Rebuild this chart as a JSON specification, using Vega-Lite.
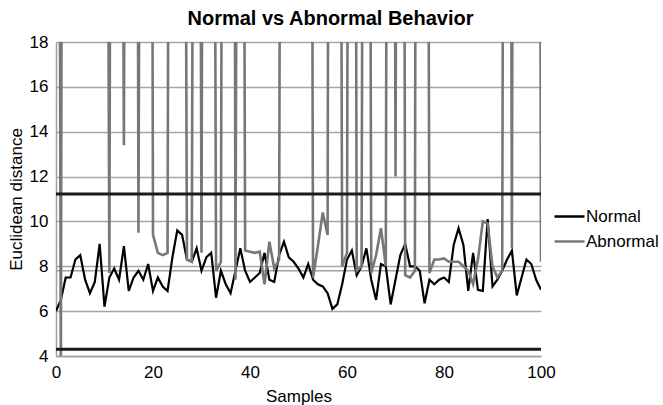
{
  "$schema": "https://vega.github.io/schema/vega-lite/v6.json",
  "width": 485,
  "height": 314,
  "autosize": {"type": "none"},
  "padding": {"left": 56, "top": 42, "right": 122, "bottom": 49},
  "background": "white",
  "title": {"text": "Normal vs Abnormal Behavior", "font": "Liberation Sans", "fontSize": 20, "fontWeight": "bold", "color": "#000000", "anchor": "middle", "dx": 32, "offset": 4},
  "config": {"view": {"stroke": null}, "font": "Liberation Sans"},
  "datasets": {
    "normal": [
      {"sample":0,"series":"Normal","value":6.0},{"sample":1,"series":"Normal","value":6.5},{"sample":2,"series":"Normal","value":7.5},{"sample":3,"series":"Normal","value":7.5},{"sample":4,"series":"Normal","value":8.3},{"sample":5,"series":"Normal","value":8.5},{"sample":6,"series":"Normal","value":7.4},{"sample":7,"series":"Normal","value":6.8},{"sample":8,"series":"Normal","value":7.3},{"sample":9,"series":"Normal","value":9.0},
      {"sample":10,"series":"Normal","value":6.2},{"sample":11,"series":"Normal","value":7.5},{"sample":12,"series":"Normal","value":7.9},{"sample":13,"series":"Normal","value":7.4},{"sample":14,"series":"Normal","value":8.9},{"sample":15,"series":"Normal","value":6.9},{"sample":16,"series":"Normal","value":7.5},{"sample":17,"series":"Normal","value":7.8},{"sample":18,"series":"Normal","value":7.4},{"sample":19,"series":"Normal","value":8.1},
      {"sample":20,"series":"Normal","value":6.9},{"sample":21,"series":"Normal","value":7.5},{"sample":22,"series":"Normal","value":7.1},{"sample":23,"series":"Normal","value":6.9},{"sample":24,"series":"Normal","value":8.4},{"sample":25,"series":"Normal","value":9.6},{"sample":26,"series":"Normal","value":9.4},{"sample":27,"series":"Normal","value":8.3},{"sample":28,"series":"Normal","value":8.2},{"sample":29,"series":"Normal","value":8.8},
      {"sample":30,"series":"Normal","value":7.8},{"sample":31,"series":"Normal","value":8.4},{"sample":32,"series":"Normal","value":8.6},{"sample":33,"series":"Normal","value":6.6},{"sample":34,"series":"Normal","value":7.8},{"sample":35,"series":"Normal","value":7.2},{"sample":36,"series":"Normal","value":6.8},{"sample":37,"series":"Normal","value":7.8},{"sample":38,"series":"Normal","value":8.8},{"sample":39,"series":"Normal","value":7.8},
      {"sample":40,"series":"Normal","value":7.3},{"sample":41,"series":"Normal","value":7.5},{"sample":42,"series":"Normal","value":7.7},{"sample":43,"series":"Normal","value":8.6},{"sample":44,"series":"Normal","value":7.4},{"sample":45,"series":"Normal","value":7.3},{"sample":46,"series":"Normal","value":8.5},{"sample":47,"series":"Normal","value":9.1},{"sample":48,"series":"Normal","value":8.4},{"sample":49,"series":"Normal","value":8.2},
      {"sample":50,"series":"Normal","value":7.9},{"sample":51,"series":"Normal","value":7.5},{"sample":52,"series":"Normal","value":8.1},{"sample":53,"series":"Normal","value":7.4},{"sample":54,"series":"Normal","value":7.2},{"sample":55,"series":"Normal","value":7.1},{"sample":56,"series":"Normal","value":6.8},{"sample":57,"series":"Normal","value":6.1},{"sample":58,"series":"Normal","value":6.3},{"sample":59,"series":"Normal","value":7.2},
      {"sample":60,"series":"Normal","value":8.3},{"sample":61,"series":"Normal","value":8.7},{"sample":62,"series":"Normal","value":7.6},{"sample":63,"series":"Normal","value":8.0},{"sample":64,"series":"Normal","value":8.8},{"sample":65,"series":"Normal","value":7.4},{"sample":66,"series":"Normal","value":6.5},{"sample":67,"series":"Normal","value":8.1},{"sample":68,"series":"Normal","value":8.0},{"sample":69,"series":"Normal","value":6.3},
      {"sample":70,"series":"Normal","value":7.4},{"sample":71,"series":"Normal","value":8.5},{"sample":72,"series":"Normal","value":9.0},{"sample":73,"series":"Normal","value":8.0},{"sample":74,"series":"Normal","value":8.0},{"sample":75,"series":"Normal","value":7.8},{"sample":76,"series":"Normal","value":6.35},{"sample":77,"series":"Normal","value":7.4},{"sample":78,"series":"Normal","value":7.2},{"sample":79,"series":"Normal","value":7.4},
      {"sample":80,"series":"Normal","value":7.5},{"sample":81,"series":"Normal","value":7.3},{"sample":82,"series":"Normal","value":8.95},{"sample":83,"series":"Normal","value":9.7},{"sample":84,"series":"Normal","value":8.95},{"sample":85,"series":"Normal","value":6.9},{"sample":86,"series":"Normal","value":8.6},{"sample":87,"series":"Normal","value":6.95},{"sample":88,"series":"Normal","value":6.9},{"sample":89,"series":"Normal","value":10.1},
      {"sample":90,"series":"Normal","value":7.1},{"sample":91,"series":"Normal","value":7.4},{"sample":92,"series":"Normal","value":7.8},{"sample":93,"series":"Normal","value":8.3},{"sample":94,"series":"Normal","value":8.7},{"sample":95,"series":"Normal","value":6.7},{"sample":96,"series":"Normal","value":7.5},{"sample":97,"series":"Normal","value":8.3},{"sample":98,"series":"Normal","value":8.1},{"sample":99,"series":"Normal","value":7.4},
      {"sample":100,"series":"Normal","value":6.95}
    ],
    "abnormal": [
      {"sample":0,"series":"Abnormal","value":90},{"sample":1,"series":"Abnormal","value":3.0},{"sample":2,"series":"Abnormal","value":120},{"sample":3,"series":"Abnormal","value":75},{"sample":4,"series":"Abnormal","value":140},{"sample":5,"series":"Abnormal","value":95},{"sample":6,"series":"Abnormal","value":60},{"sample":7,"series":"Abnormal","value":110},{"sample":8,"series":"Abnormal","value":85},{"sample":9,"series":"Abnormal","value":130},
      {"sample":10,"series":"Abnormal","value":70},{"sample":11,"series":"Abnormal","value":7.7},{"sample":12,"series":"Abnormal","value":100},{"sample":13,"series":"Abnormal","value":65},{"sample":14,"series":"Abnormal","value":13.4},{"sample":15,"series":"Abnormal","value":90},{"sample":16,"series":"Abnormal","value":120},{"sample":17,"series":"Abnormal","value":9.5},{"sample":18,"series":"Abnormal","value":80},{"sample":19,"series":"Abnormal","value":105},
      {"sample":20,"series":"Abnormal","value":9.4},{"sample":21,"series":"Abnormal","value":8.6},{"sample":22,"series":"Abnormal","value":8.5},{"sample":23,"series":"Abnormal","value":8.6},{"sample":24,"series":"Abnormal","value":95},{"sample":25,"series":"Abnormal","value":130},{"sample":26,"series":"Abnormal","value":70},{"sample":27,"series":"Abnormal","value":8.3},{"sample":28,"series":"Abnormal","value":8.2},{"sample":29,"series":"Abnormal","value":85},
      {"sample":30,"series":"Abnormal","value":8.6},{"sample":31,"series":"Abnormal","value":110},{"sample":32,"series":"Abnormal","value":75},{"sample":33,"series":"Abnormal","value":7.8},{"sample":34,"series":"Abnormal","value":8.2},{"sample":35,"series":"Abnormal","value":95},{"sample":36,"series":"Abnormal","value":125},{"sample":37,"series":"Abnormal","value":7.4},{"sample":38,"series":"Abnormal","value":80},{"sample":39,"series":"Abnormal","value":8.7},
      {"sample":40,"series":"Abnormal","value":8.65},{"sample":41,"series":"Abnormal","value":8.6},{"sample":42,"series":"Abnormal","value":8.65},{"sample":43,"series":"Abnormal","value":7.2},{"sample":44,"series":"Abnormal","value":9.1},{"sample":45,"series":"Abnormal","value":7.9},{"sample":46,"series":"Abnormal","value":8.3},{"sample":47,"series":"Abnormal","value":100},{"sample":48,"series":"Abnormal","value":140},{"sample":49,"series":"Abnormal","value":90},
      {"sample":50,"series":"Abnormal","value":115},{"sample":51,"series":"Abnormal","value":70},{"sample":52,"series":"Abnormal","value":95},{"sample":53,"series":"Abnormal","value":7.5},{"sample":54,"series":"Abnormal","value":8.9},{"sample":55,"series":"Abnormal","value":10.4},{"sample":56,"series":"Abnormal","value":9.4},{"sample":57,"series":"Abnormal","value":120},{"sample":58,"series":"Abnormal","value":85},{"sample":59,"series":"Abnormal","value":8.0},
      {"sample":60,"series":"Abnormal","value":8.6},{"sample":61,"series":"Abnormal","value":105},{"sample":62,"series":"Abnormal","value":7.8},{"sample":63,"series":"Abnormal","value":8.0},{"sample":64,"series":"Abnormal","value":90},{"sample":65,"series":"Abnormal","value":7.7},{"sample":66,"series":"Abnormal","value":8.5},{"sample":67,"series":"Abnormal","value":9.7},{"sample":68,"series":"Abnormal","value":8.0},{"sample":69,"series":"Abnormal","value":110},
      {"sample":70,"series":"Abnormal","value":12.0},{"sample":71,"series":"Abnormal","value":95},{"sample":72,"series":"Abnormal","value":7.6},{"sample":73,"series":"Abnormal","value":7.5},{"sample":74,"series":"Abnormal","value":7.8},{"sample":75,"series":"Abnormal","value":130},{"sample":76,"series":"Abnormal","value":80},{"sample":77,"series":"Abnormal","value":7.7},{"sample":78,"series":"Abnormal","value":8.3},{"sample":79,"series":"Abnormal","value":8.3},
      {"sample":80,"series":"Abnormal","value":8.35},{"sample":81,"series":"Abnormal","value":8.2},{"sample":82,"series":"Abnormal","value":8.2},{"sample":83,"series":"Abnormal","value":8.2},{"sample":84,"series":"Abnormal","value":8.0},{"sample":85,"series":"Abnormal","value":7.8},{"sample":86,"series":"Abnormal","value":7.2},{"sample":87,"series":"Abnormal","value":8.3},{"sample":88,"series":"Abnormal","value":10.0},{"sample":89,"series":"Abnormal","value":9.9},
      {"sample":90,"series":"Abnormal","value":8.0},{"sample":91,"series":"Abnormal","value":7.5},{"sample":92,"series":"Abnormal","value":7.8},{"sample":93,"series":"Abnormal","value":100},{"sample":94,"series":"Abnormal","value":8.8},{"sample":95,"series":"Abnormal","value":120},{"sample":96,"series":"Abnormal","value":75},{"sample":97,"series":"Abnormal","value":140},{"sample":98,"series":"Abnormal","value":90},{"sample":99,"series":"Abnormal","value":110},
      {"sample":100,"series":"Abnormal","value":8.2}
    ],
    "mean": [{"level": 7.8}],
    "limits": [{"level": 11.22}, {"level": 4.3}]
  },
  "layer": [
    {
      "data": {"name": "mean"},
      "mark": {"type": "rule", "color": "#a0a0a0", "strokeWidth": 1.5},
      "encoding": {
        "y": {"field": "level", "type": "quantitative", "scale": {"domain": [4, 18], "nice": false, "zero": false}}
      }
    },
    {
      "data": {"name": "normal"},
      "mark": {"type": "line", "clip": true, "strokeWidth": 2.2},
      "encoding": {
        "x": {"field": "sample", "type": "quantitative", "scale": {"domain": [0, 100], "nice": false, "zero": false},
              "axis": {"values": [0, 20, 40, 60, 80, 100], "title": "Samples", "grid": false, "ticks": false, "domainColor": "#a0a0a0", "domainWidth": 1.5,
                       "labelFontSize": 17, "labelColor": "#000000", "labelPadding": 8, "labelFlush": false,
                       "titleFontSize": 17, "titleFontWeight": "normal", "titleColor": "#000000", "titlePadding": 8}},
        "y": {"field": "value", "type": "quantitative", "scale": {"domain": [4, 18], "nice": false, "zero": false},
              "axis": {"values": [4, 6, 8, 10, 12, 14, 16, 18], "title": "Euclidean distance", "grid": true, "gridColor": "#a6a6a6", "gridWidth": 1.3,
                       "ticks": false, "domainColor": "#a0a0a0", "domainWidth": 1.5,
                       "labelFontSize": 17, "labelColor": "#000000", "labelPadding": 8,
                       "titleFontSize": 17, "titleFontWeight": "normal", "titleColor": "#000000", "titlePadding": 4}},
        "color": {"field": "series", "type": "nominal",
                  "scale": {"domain": ["Normal", "Abnormal"], "range": ["#000000", "#777777"]},
                  "legend": {"title": null, "orient": "none", "legendX": 497, "legendY": 158, "symbolType": "stroke", "symbolSize": 900, "symbolStrokeWidth": 2.5,
                             "labelFontSize": 17, "labelColor": "#000000", "labelOffset": 0, "rowPadding": 0}}
      }
    },
    {
      "data": {"name": "abnormal"},
      "mark": {"type": "line", "clip": true, "strokeWidth": 2.6},
      "encoding": {
        "x": {"field": "sample", "type": "quantitative"},
        "y": {"field": "value", "type": "quantitative"},
        "color": {"field": "series", "type": "nominal"}
      }
    },
    {
      "data": {"name": "limits"},
      "mark": {"type": "rule", "color": "#1a1a1a", "strokeWidth": 3},
      "encoding": {
        "y": {"field": "level", "type": "quantitative"}
      }
    }
  ]
}
